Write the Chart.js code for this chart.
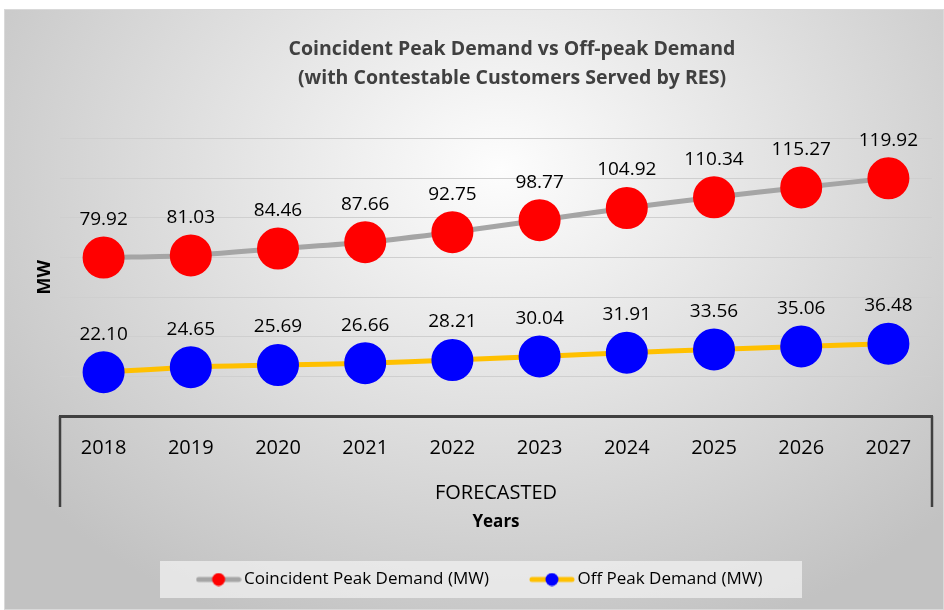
<!DOCTYPE html>
<html>
<head>
<meta charset="utf-8">
<script src="https://cdn.jsdelivr.net/npm/chart.js@4.4.0/dist/chart.umd.min.js"></script>
<style>
  html, body { margin: 0; padding: 0; background: #fff; }
  #wrap { width: 944px; height: 610px; }
</style>
</head>
<body>
<div id="wrap"><canvas id="chart"></canvas></div>
<script>
const years = ["2018", "2019", "2020", "2021", "2022", "2023", "2024", "2025", "2026", "2027"];
const peakDemand = [79.92, 81.03, 84.46, 87.66, 92.75, 98.77, 104.92, 110.34, 115.27, 119.92];
const offPeakDemand = [22.10, 24.65, 25.69, 26.66, 28.21, 30.04, 31.91, 33.56, 35.06, 36.48];
const groupLabel = "FORECASTED";

const FONT = "'Open Sans', sans-serif";

// little line + dot image for legend entries
function legendIcon(lineColor, dotColor) {
  const c = document.createElement("canvas");
  c.width = 46;
  c.height = 14;
  const g = c.getContext("2d");
  g.strokeStyle = lineColor;
  g.lineWidth = 5;
  g.lineCap = "round";
  g.beginPath();
  g.moveTo(3, 7);
  g.lineTo(43, 7);
  g.stroke();
  g.fillStyle = dotColor;
  g.beginPath();
  g.arc(23, 7, 6.5, 0, Math.PI * 2);
  g.fill();
  return c;
}

const backgroundPlugin = {
  id: "background",
  afterLayout(chart) {
    // excel puts the title and legend a bit right of centre
    if (chart.titleBlock) {
      chart.titleBlock.left += 44;
      chart.titleBlock.right += 44;
    }
    if (chart.legend) {
      chart.legend.left += 14;
      chart.legend.right += 14;
    }
  },
  beforeDraw(chart) {
    const { ctx, width, height } = chart;
    ctx.save();
    ctx.fillStyle = "#ffffff";
    ctx.fillRect(0, 0, width, height);
    ctx.beginPath();
    ctx.rect(4, 9, width - 4, height - 9);
    ctx.clip();
    ctx.translate(500, 170);
    ctx.scale(1, 0.8);
    const grad = ctx.createRadialGradient(0, 0, 0, 0, 0, 620);
    grad.addColorStop(0, "#fdfdfd");
    grad.addColorStop(1, "#c2c2c2");
    ctx.fillStyle = grad;
    ctx.fillRect(-600, -300, 1300, 900);
    ctx.restore();
    ctx.save();
    ctx.strokeStyle = "#d9d9d9";
    ctx.lineWidth = 1;
    ctx.strokeRect(4.5, 9.5, width - 5, height - 10);
    ctx.restore();

    // legend box
    const lg = chart.legend;
    if (lg && lg.legendHitBoxes && lg.legendHitBoxes.length) {
      const hb = lg.legendHitBoxes[0];
      const cy = hb.top + hb.height / 2;
      ctx.save();
      ctx.fillStyle = "rgba(240,240,240,0.75)";
      ctx.fillRect(160, cy - 18.5, 642, 37);
      ctx.restore();
    }
  }
};

const groupPlugin = {
  id: "groupAxis",
  afterDraw(chart) {
    const { ctx, chartArea } = chart;
    const x = chart.scales.x;
    ctx.save();
    ctx.strokeStyle = "#404040";
    ctx.lineWidth = 2.5;
    ctx.beginPath();
    ctx.moveTo(x.left, chartArea.bottom);
    ctx.lineTo(x.left, chartArea.bottom + 91);
    ctx.moveTo(x.right, chartArea.bottom);
    ctx.lineTo(x.right, chartArea.bottom + 91);
    ctx.stroke();
    ctx.fillStyle = "#000";
    ctx.font = "20px " + FONT;
    ctx.textAlign = "center";
    ctx.textBaseline = "middle";
    ctx.fillText(groupLabel, (x.left + x.right) / 2, chartArea.bottom + 77);
    ctx.restore();
  }
};

const valueLabelPlugin = {
  id: "valueLabels",
  afterDatasetsDraw(chart) {
    const { ctx } = chart;
    ctx.save();
    ctx.fillStyle = "#000";
    ctx.font = "19px " + FONT;
    ctx.textAlign = "center";
    ctx.textBaseline = "middle";
    chart.data.datasets.forEach((ds, i) => {
      chart.getDatasetMeta(i).data.forEach((pt, j) => {
        ctx.fillText(ds.data[j].toFixed(2), pt.x, pt.y - 38);
      });
    });
    ctx.restore();
  }
};

new Chart(document.getElementById("chart"), {
  type: "line",
  data: {
    labels: years,
    datasets: [
      {
        label: "Coincident Peak Demand (MW)",
        data: peakDemand,
        borderColor: "#a5a5a5",
        borderWidth: 5,
        backgroundColor: "#ff0000",
        pointBackgroundColor: "#ff0000",
        pointBorderColor: "#ff0000",
        pointRadius: 18.5,
        pointHoverRadius: 18.5,
        tension: 0.3,
        legendIcon: legendIcon("#a5a5a5", "#ff0000")
      },
      {
        label: "Off Peak Demand (MW)",
        data: offPeakDemand,
        borderColor: "#ffc000",
        borderWidth: 5,
        backgroundColor: "#0000ff",
        pointBackgroundColor: "#0000ff",
        pointBorderColor: "#0000ff",
        pointRadius: 18.5,
        pointHoverRadius: 18.5,
        tension: 0.3,
        legendIcon: legendIcon("#ffc000", "#0000ff")
      }
    ]
  },
  options: {
    responsive: true,
    maintainAspectRatio: false,
    animation: false,
    layout: { autoPadding: false, padding: { left: 4, right: 12, top: 9, bottom: 12 } },
    plugins: {
      title: {
        display: true,
        text: ["Coincident Peak Demand vs Off-peak Demand", "(with Contestable Customers Served by RES)"],
        color: "#404040",
        font: { family: FONT, size: 19.5, weight: "bold", lineHeight: 1.5 },
        padding: { top: 26, bottom: 45 }
      },
      legend: {
        position: "bottom",
        labels: {
          color: "#000",
          font: { family: FONT, size: 17 },
          usePointStyle: true,
          pointStyleWidth: 34,
          padding: 46,
          generateLabels(chart) {
            return chart.data.datasets.map((ds, i) => ({
              text: ds.label,
              pointStyle: ds.legendIcon,
              fillStyle: ds.backgroundColor,
              strokeStyle: ds.borderColor,
              lineWidth: 0,
              hidden: false,
              datasetIndex: i,
              fontColor: "#000"
            }));
          }
        }
      },
      tooltip: { enabled: false }
    },
    scales: {
      x: {
        offset: true,
        grid: { display: false, drawTicks: false },
        border: { display: true, color: "#404040", width: 3 },
        ticks: { color: "#000", font: { family: FONT, size: 20 }, padding: 20 },
        title: {
          display: true,
          text: "Years",
          color: "#000",
          font: { family: FONT, size: 17, weight: "bold" },
          padding: { top: 0, bottom: -7 }
        },
        afterFit(scale) {
          scale.height = 109;
        }
      },
      y: {
        min: 0,
        max: 140,
        ticks: { display: false, stepSize: 20 },
        grid: { color: "#cfcfcf", lineWidth: 1, drawTicks: false },
        border: { display: false },
        title: {
          display: true,
          text: "MW",
          color: "#000",
          font: { family: FONT, size: 18, weight: "bold" },
          padding: { top: 30, bottom: 0 }
        },
        afterFit(scale) {
          scale.width = 56;
        }
      }
    }
  },
  plugins: [backgroundPlugin, groupPlugin, valueLabelPlugin]
});
</script>
</body>
</html>
